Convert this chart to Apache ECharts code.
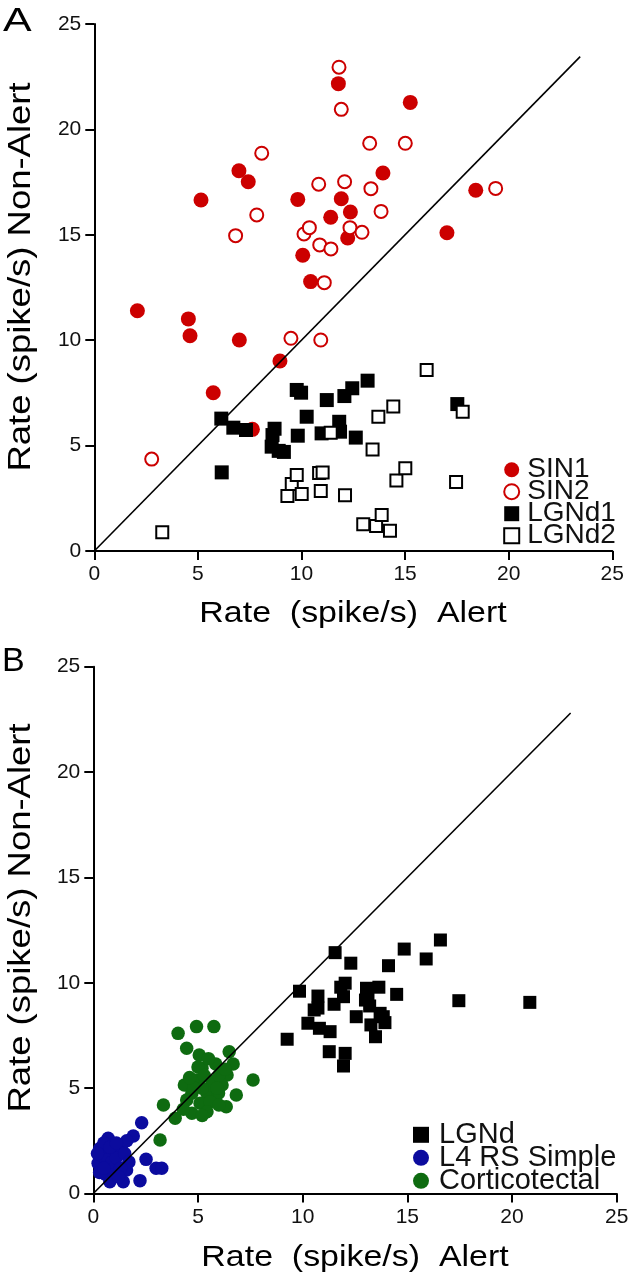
<!DOCTYPE html>
<html>
<head>
<meta charset="utf-8">
<script src="https://cdn.jsdelivr.net/npm/echarts@6/dist/echarts.min.js"></script>
<style>
html,body{margin:0;padding:0;background:#fff;}
#chart{width:632px;height:1280px;}
</style>
</head>
<body>
<div id="chart"></div>
<script>
// ---------- Data ----------
// Panel A: [Alert, Non-Alert]
const sin1 = [[2.08,11.40],[4.54,11.01],[4.62,10.21],[5.74,7.51],[5.15,16.65],[6.98,18.04],[7.43,17.52],[7.00,10.01],[7.63,5.77],[8.96,9.01],[9.82,16.68],[10.06,14.03],[10.44,12.78],[11.41,15.83],[11.78,22.17],[11.92,16.71],[12.36,16.08],[12.23,14.85],[13.93,17.93],[15.25,21.28],[17.02,15.10],[18.41,17.11]];
const sin2 = [[2.77,4.36],[6.82,14.96],[7.84,15.94],[8.08,18.87],[9.49,10.09],[10.12,15.04],[10.38,15.34],[10.83,17.40],[10.88,14.52],[10.93,10.01],[11.10,12.73],[11.42,14.33],[11.81,22.95],[11.92,20.95],[12.08,17.52],[12.34,15.34],[12.92,15.12],[13.29,19.34],[13.35,17.19],[13.84,16.11],[15.01,19.34],[19.37,17.20]];
const lgnd1 = [[6.13,6.28],[6.15,3.73],[6.71,5.85],[7.32,5.74],[8.70,5.80],[8.60,5.50],[8.56,4.95],[8.90,4.75],[9.15,4.70],[9.82,5.47],[9.77,7.64],[9.98,7.51],[10.25,6.37],[10.97,5.58],[11.22,7.16],[11.82,6.13],[11.86,5.66],[12.07,7.35],[12.45,7.72],[12.62,5.38],[13.19,8.08],[17.52,6.97]];
const lgnd2 = [[3.28,0.89],[9.32,2.61],[9.53,3.18],[9.77,3.60],[10.01,2.70],[10.85,3.70],[11.02,3.72],[10.93,2.85],[11.41,5.61],[12.10,2.64],[12.98,1.27],[13.43,4.82],[13.60,1.19],[13.71,6.37],[13.87,1.71],[14.27,0.96],[14.43,6.85],[14.58,3.34],[15.01,3.92],[16.04,8.59],[17.46,3.27],[17.78,6.61]];
const unityA = [[0,0],[23.45,23.45]];

// Panel B
const lgnd = [[9.26,7.32],[9.85,9.60],[10.25,8.08],[10.55,8.71],[10.73,9.37],[10.73,8.80],[10.80,7.84],[11.31,7.68],[11.50,8.98],[11.27,6.73],[11.55,11.43],[11.82,9.79],[11.95,9.34],[12.03,9.98],[12.03,6.65],[11.95,6.05],[12.30,10.93],[12.56,8.39],[13.05,9.74],[13.00,9.18],[13.12,9.26],[13.20,8.90],[13.26,8.00],[13.48,7.44],[13.64,9.79],[13.70,8.55],[13.85,8.39],[13.93,8.11],[14.10,10.81],[14.49,9.45],[14.85,11.60],[15.90,11.13],[16.58,12.03],[17.46,9.15],[20.85,9.07]];
const l4rs = [[2.31,3.36],[1.91,2.73],[0.71,2.62],[1.35,2.30],[0.31,2.14],[0.95,1.91],[1.20,2.00],[2.52,1.62],[0.23,1.43],[0.79,1.27],[1.59,1.12],[3.00,1.20],[3.27,1.20],[0.79,0.56],[1.43,0.56],[2.23,0.61],[0.50,2.40],[0.40,1.80],[0.60,1.60],[0.90,1.50],[1.10,1.70],[1.50,1.90],[1.70,1.50],[0.30,1.00],[0.60,0.90],[1.00,0.90],[1.30,1.20],[0.20,1.90],[0.80,2.20],[1.60,2.50],[1.10,2.40],[0.50,1.20],[1.20,0.80]];
const cortico = [[4.05,7.60],[4.93,7.92],[5.76,7.92],[4.46,6.89],[5.06,6.57],[6.49,6.73],[6.68,6.15],[5.85,6.15],[5.19,5.94],[6.39,5.62],[7.63,5.39],[4.35,5.15],[4.95,5.39],[5.67,5.31],[6.15,5.15],[4.71,4.76],[5.43,4.76],[5.98,4.76],[6.83,4.67],[4.46,4.44],[5.10,4.28],[5.58,4.36],[6.35,4.12],[3.35,4.20],[3.91,3.57],[4.71,3.81],[5.43,3.88],[3.19,2.54],[5.00,6.00],[5.30,5.60],[6.00,5.60],[5.20,5.00],[4.80,5.00],[6.00,4.20],[4.30,4.00],[5.20,3.70],[6.30,5.90],[5.50,6.40],[5.90,5.00],[4.60,5.50]];
const unityB = [[0,0],[22.8,22.8]];

const axisTicks = [0,5,10,15,20,25];
const xTitle = 'Rate  (spike/s)  Alert';
const yTitle = 'Rate (spike/s) Non-Alert';

// ---------- Styling ----------
const FONT = '"Liberation Sans", Arial, Helvetica, sans-serif';
const RED = '#cc0000', BLUE = '#0b0b9e', GREEN = '#0e6b10';

function xAxisCfg(gi){
  return {type:'value', gridIndex:gi, min:axisTicks[0], max:axisTicks[axisTicks.length-1], interval:axisTicks[1]-axisTicks[0],
    axisLine:{show:true, onZero:false, lineStyle:{color:'#000', width:2}},
    axisTick:{show:true, length:9, lineStyle:{color:'#000', width:2}},
    axisLabel:{fontSize:21, color:'#111', margin:13, fontFamily:FONT},
    splitLine:{show:false}};
}
function yAxisCfg(gi){
  const c = xAxisCfg(gi);
  c.axisLabel = {fontSize:21, color:'#111', margin:13, fontFamily:FONT};
  return c;
}

const filled = (col)=>({color:col, opacity:1});
const openStyle = (col)=>({color:'#ffffff', borderColor:col, borderWidth:2, opacity:1});

const option = {
  animation:false,
  backgroundColor:'#ffffff',
  grid:[
    {left:94.3, top:24, width:518, height:527},
    {left:93.3, top:666.7, width:523.4, height:526.8}
  ],
  xAxis:[xAxisCfg(0), xAxisCfg(1)],
  yAxis:[yAxisCfg(0), yAxisCfg(1)],
  legend:[
    {orient:'vertical', left:503.2, top:455.7, padding:0, itemWidth:15, itemHeight:15, itemGap:-6, selectedMode:false,
     textStyle:{fontSize:28, color:'#111', fontFamily:FONT, padding:[0,0,0,3]},
     data:[
       {name:'SIN1', icon:'circle', itemStyle:filled(RED)},
       {name:'SIN2', icon:'circle', itemStyle:openStyle(RED)},
       {name:'LGNd1', icon:'rect', itemStyle:filled('#000')},
       {name:'LGNd2', icon:'rect', itemStyle:openStyle('#000')}
     ]},
    {orient:'vertical', left:413, top:1120.3, padding:0, itemWidth:16, itemHeight:16, itemGap:-6, selectedMode:false,
     textStyle:{fontSize:29, color:'#111', fontFamily:FONT, padding:[0,0,0,5]},
     data:[
       {name:'LGNd', icon:'rect', itemStyle:filled('#000')},
       {name:'L4 RS Simple', icon:'circle', itemStyle:filled(BLUE)},
       {name:'Corticotectal', icon:'circle', itemStyle:filled(GREEN)}
     ]}
  ],
  series:[
    {name:'SIN1', type:'scatter', xAxisIndex:0, yAxisIndex:0, symbol:'circle', symbolSize:15, data:sin1, itemStyle:filled(RED)},
    {name:'SIN2', type:'scatter', xAxisIndex:0, yAxisIndex:0, symbol:'circle', symbolSize:13, data:sin2, itemStyle:openStyle(RED)},
    {name:'LGNd1', type:'scatter', xAxisIndex:0, yAxisIndex:0, symbol:'rect', symbolSize:14, data:lgnd1, itemStyle:filled('#000')},
    {name:'LGNd2', type:'scatter', xAxisIndex:0, yAxisIndex:0, symbol:'rect', symbolSize:12, data:lgnd2, itemStyle:openStyle('#000')},
    {name:'unityA', type:'line', xAxisIndex:0, yAxisIndex:0, data:unityA, showSymbol:false, silent:true, z:5, lineStyle:{color:'#000', width:1.6, opacity:1}},
    {name:'L4 RS Simple', type:'scatter', xAxisIndex:1, yAxisIndex:1, symbol:'circle', symbolSize:13.5, data:l4rs, itemStyle:filled(BLUE)},
    {name:'Corticotectal', type:'scatter', xAxisIndex:1, yAxisIndex:1, symbol:'circle', symbolSize:13.5, data:cortico, itemStyle:filled(GREEN)},
    {name:'LGNd', type:'scatter', xAxisIndex:1, yAxisIndex:1, symbol:'rect', symbolSize:13, data:lgnd, itemStyle:filled('#000')},
    {name:'unityB', type:'line', xAxisIndex:1, yAxisIndex:1, data:unityB, showSymbol:false, silent:true, z:5, lineStyle:{color:'#000', width:1.6, opacity:1}}
  ],
  graphic:[
    {type:'text', x:3, y:5, scaleX:1.3, silent:true, style:{text:'A', fontSize:33, fontFamily:FONT, fill:'#000', textAlign:'left', textVerticalAlign:'top', align:'left', verticalAlign:'top'}},
    {type:'text', x:2, y:645, silent:true, style:{text:'B', fontSize:34, fontFamily:FONT, fill:'#000', textAlign:'left', textVerticalAlign:'top', align:'left', verticalAlign:'top'}},
    {type:'text', x:353, y:613.5, scaleX:1.17, silent:true, style:{text:xTitle, fontSize:29, fontFamily:FONT, fill:'#000', textAlign:'center', textVerticalAlign:'middle', align:'center', verticalAlign:'middle'}},
    {type:'text', x:355, y:1258, scaleX:1.17, silent:true, style:{text:xTitle, fontSize:29, fontFamily:FONT, fill:'#000', textAlign:'center', textVerticalAlign:'middle', align:'center', verticalAlign:'middle'}},
    {type:'text', x:21.5, y:277, rotation:Math.PI/2, scaleX:1.14, silent:true, style:{text:yTitle, fontSize:32, fontFamily:FONT, fill:'#000', textAlign:'center', textVerticalAlign:'middle', align:'center', verticalAlign:'middle'}},
    {type:'text', x:21.5, y:918, rotation:Math.PI/2, scaleX:1.14, silent:true, style:{text:yTitle, fontSize:32, fontFamily:FONT, fill:'#000', textAlign:'center', textVerticalAlign:'middle', align:'center', verticalAlign:'middle'}}
  ]
};

const chart = echarts.init(document.getElementById('chart'), null, {renderer:'canvas', width:632, height:1280});
chart.setOption(option);
</script>
</body>
</html>
